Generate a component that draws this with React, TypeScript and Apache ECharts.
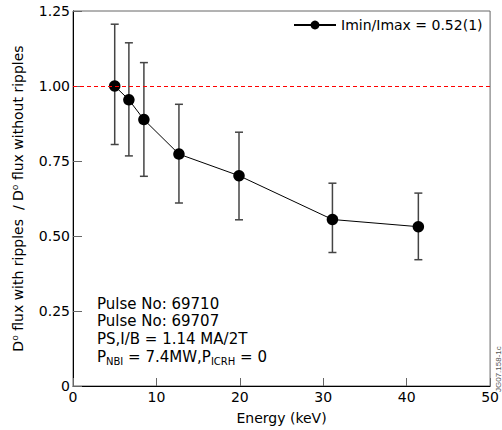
import React, { useEffect, useRef } from "react";
import * as echarts from "echarts";

const energies = [5.0, 6.7, 8.5, 12.7, 19.9, 31.1, 41.4];
const ratios = [1.0, 0.954, 0.888, 0.773, 0.701, 0.555, 0.531];
const errLow = [0.805, 0.767, 0.699, 0.61, 0.554, 0.445, 0.421];
const errHigh = [1.206, 1.144, 1.078, 0.939, 0.846, 0.676, 0.643];
const yTicks = [0, 0.25, 0.5, 0.75, 1.0, 1.25];
const seriesName = "Imin/Imax = 0.52(1)";
const infoLines = ["Pulse No: 69710", "Pulse No: 69707", "PS,I/B = 1.14 MA/2T"];

const FONT = "DejaVu Sans, Liberation Sans, sans-serif";

export default function App() {
  const ref = useRef<HTMLDivElement>(null);
  useEffect(() => {
    document.body.style.margin = "0";
    const chart = echarts.init(ref.current!, null, { renderer: "svg" });
    const errData = energies.map((e, i) => [e, errLow[i], errHigh[i]]);
    const option: any = {
      animation: false,
      backgroundColor: "#ffffff",
      textStyle: { fontFamily: FONT },
      grid: {
        left: 73,
        top: 11,
        right: 8,
        bottom: 40,
        show: true,
        borderColor: "#666",
        borderWidth: 1,
      },
      legend: {
        left: 288,
        top: 13,
        itemWidth: 42,
        itemHeight: 11,
        data: [seriesName],
        textStyle: { fontSize: 14, color: "#000", fontFamily: FONT },
      },
      xAxis: {
        type: "value",
        min: 0,
        max: 50,
        interval: 10,
        name: "Energy (keV)",
        nameLocation: "middle",
        nameGap: 25,
        nameTextStyle: { fontSize: 14, color: "#000", fontFamily: FONT },
        axisLine: { show: true, onZero: false, lineStyle: { color: "#000", width: 1 } },
        axisTick: { show: true, inside: true, length: 8, lineStyle: { color: "#666" } },
        axisLabel: { fontSize: 14, color: "#000", margin: 4, fontFamily: FONT },
        splitLine: { show: false },
      },
      yAxis: {
        type: "value",
        min: 0,
        max: 1.25,
        interval: 0.25,
        name: "D⁰ flux with ripples  / D⁰ flux without ripples",
        nameLocation: "middle",
        nameGap: 48,
        nameTextStyle: { fontSize: 14, color: "#000", fontFamily: FONT },
        axisLine: { show: true, onZero: false, lineStyle: { color: "#000", width: 1 } },
        axisTick: { show: true, inside: true, length: 9, lineStyle: { color: "#666" } },
        axisLabel: {
          fontSize: 14,
          color: "#000",
          margin: 3,
          fontFamily: FONT,
          formatter: (v: number) => {
            const t = yTicks.find((k) => Math.abs(k - v) < 1e-9);
            if (t === undefined) return "";
            return t === 0 ? "0" : t.toFixed(2);
          },
        },
        splitLine: { show: false },
      },
      series: [
        {
          type: "custom",
          name: "errors",
          data: errData,
          z: 1,
          renderItem: (params: any, api: any) => {
            const x = api.value(0);
            const lo = api.coord([x, api.value(1)]);
            const hi = api.coord([x, api.value(2)]);
            const cap = 4;
            const style = { stroke: "#444", lineWidth: 1.5 };
            return {
              type: "group",
              children: [
                { type: "line", shape: { x1: lo[0], y1: lo[1], x2: hi[0], y2: hi[1] }, style },
                { type: "line", shape: { x1: lo[0] - cap, y1: lo[1], x2: lo[0] + cap, y2: lo[1] }, style },
                { type: "line", shape: { x1: hi[0] - cap, y1: hi[1], x2: hi[0] + cap, y2: hi[1] }, style },
              ],
            };
          },
        },
        {
          type: "line",
          name: seriesName,
          data: energies.map((e, i) => [e, ratios[i]]),
          symbol: "circle",
          symbolSize: 11.5,
          z: 3,
          lineStyle: { color: "#000", width: 1 },
          itemStyle: { color: "#000" },
          markLine: {
            silent: true,
            symbol: "none",
            label: { show: false },
            lineStyle: { color: "#ff0000", type: [4, 3], width: 1 },
            data: [{ yAxis: 1.0 }],
          },
        },
      ],
      graphic: [
        ...infoLines.map((t, i) => ({
          type: "text",
          left: 97,
          top: 296 + i * 17.7,
          style: { text: t, fontSize: 15, fill: "#000", fontFamily: FONT },
        })),
        {
          type: "text",
          left: 97,
          top: 349,
          style: {
            text: "P{sub|NBI} = 7.4MW,P{sub|ICRH} = 0",
            fontSize: 15,
            fill: "#000",
            fontFamily: FONT,
            rich: {
              sub: { fontSize: 10, fontFamily: FONT, fill: "#000", padding: [9, 0, 0, 0] },
            },
          },
        },
        {
          type: "text",
          x: 502,
          y: 392,
          rotation: Math.PI / 2,
          style: {
            text: "JG07.158-1c",
            fontSize: 8,
            fill: "#555",
            fontFamily: "Liberation Sans, sans-serif",
            align: "left",
            verticalAlign: "bottom",
          },
        },
      ],
    };
    chart.setOption(option);
    return () => chart.dispose();
  }, []);
  return <div ref={ref} style={{ position: "absolute", left: 0, top: 0, width: 502, height: 430 }} />;
}
